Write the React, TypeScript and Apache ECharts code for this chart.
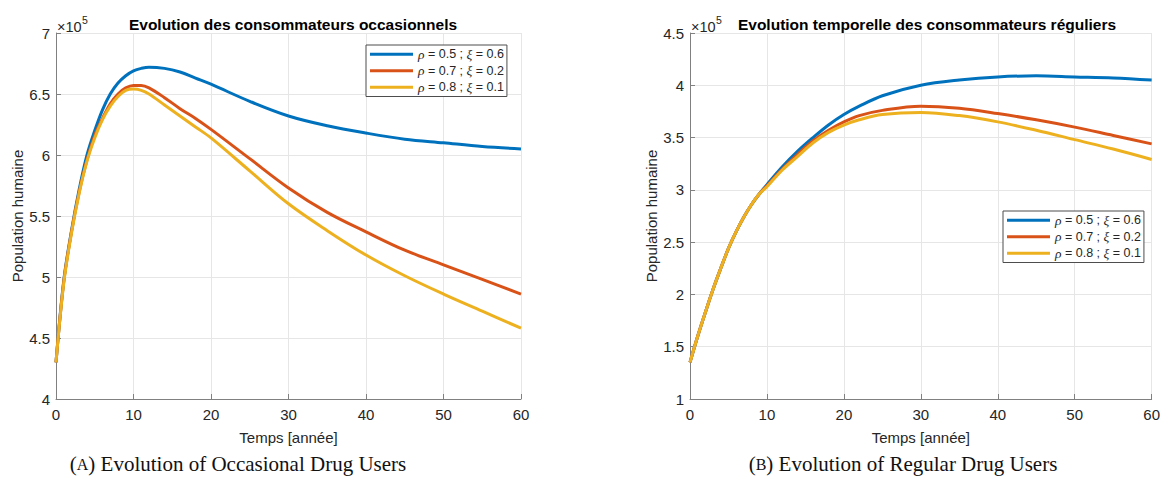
import React, { useEffect, useRef } from "react";
import * as echarts from "echarts";

// ---------- data ----------
const seriesNames = ["ρ = 0.5 ; ξ = 0.6", "ρ = 0.7 ; ξ = 0.2", "ρ = 0.8 ; ξ = 0.1"];
const colors = ["#0072BD", "#D95319", "#EDB120"];

const occT = [0, 1, 2, 3, 4, 5, 6, 7, 8, 9, 10, 11, 12, 14, 16, 18, 20, 25, 30, 35, 40, 45, 50, 55, 60];
const occBlue = [4.3, 4.97, 5.38, 5.72, 6.0, 6.2, 6.37, 6.5, 6.59, 6.65, 6.69, 6.71, 6.72, 6.71, 6.68, 6.63, 6.58, 6.44, 6.32, 6.24, 6.18, 6.13, 6.1, 6.07, 6.05];
const occRed = [4.3, 4.96, 5.37, 5.7, 5.96, 6.16, 6.3, 6.42, 6.5, 6.55, 6.57, 6.57, 6.55, 6.47, 6.38, 6.3, 6.21, 5.97, 5.73, 5.53, 5.37, 5.22, 5.1, 4.98, 4.86];
const occYellow = [4.3, 4.95, 5.36, 5.69, 5.95, 6.14, 6.29, 6.4, 6.48, 6.53, 6.54, 6.53, 6.5, 6.41, 6.32, 6.23, 6.14, 5.87, 5.6, 5.38, 5.18, 5.01, 4.86, 4.72, 4.58];

const regT = [0, 1, 2, 3, 4, 5, 6, 7, 8, 9, 10, 12, 14, 16, 18, 20, 22, 25, 30, 35, 40, 45, 50, 55, 60];
const regBlue = [1.35, 1.6, 1.83, 2.05, 2.25, 2.44, 2.6, 2.74, 2.86, 2.96, 3.05, 3.22, 3.37, 3.5, 3.62, 3.72, 3.8, 3.9, 4.0, 4.05, 4.08, 4.09, 4.08, 4.07, 4.05];
const regRed = [1.35, 1.6, 1.83, 2.05, 2.25, 2.44, 2.6, 2.74, 2.86, 2.96, 3.04, 3.2, 3.34, 3.47, 3.57, 3.65, 3.71, 3.76, 3.8, 3.78, 3.73, 3.67, 3.6, 3.52, 3.44];
const regYellow = [1.35, 1.6, 1.83, 2.05, 2.25, 2.44, 2.6, 2.74, 2.86, 2.96, 3.03, 3.19, 3.32, 3.45, 3.55, 3.62, 3.67, 3.72, 3.74, 3.71, 3.65, 3.57, 3.48, 3.39, 3.29];

const xTicks = { min: 0, max: 60, interval: 10 };
const occY = { min: 4, max: 7, interval: 0.5 };
const regY = { min: 1, max: 4.5, interval: 0.5 };

const titles = ["Evolution des consommateurs occasionnels", "Evolution temporelle des consommateurs réguliers"];
const xName = "Temps [année]";
const yName = "Population humaine";
const captions = [
  ["A", " Evolution of Occasional Drug Users"],
  ["B", " Evolution of Regular Drug Users"],
];

const SANS = "Liberation Sans, Arial, Helvetica, sans-serif";
const SERIF = "Liberation Serif, DejaVu Serif, serif";
const TXT = "#262626";

const zip = (t: number[], v: number[]) => t.map((x, i) => [x, v[i]]);

export default function App() {
  const ref = useRef<HTMLDivElement>(null);
  useEffect(() => {
    if (!ref.current) return;
    const chart = echarts.init(ref.current, undefined, { renderer: "svg" });

    const grids = [
      { left: 56, top: 33, width: 465, height: 366 },
      { left: 690, top: 33, width: 464, height: 366 },
    ];

    const mkX = (gi: number) => ({
      type: "value",
      gridIndex: gi,
      ...xTicks,
      name: xName,
      nameLocation: "middle",
      nameGap: 31,
      nameTextStyle: { color: TXT, fontSize: 15, fontFamily: SANS },
      axisLine: { show: true, lineStyle: { color: "#808080", width: 1 } },
      axisTick: { show: true, inside: true, length: 5, lineStyle: { color: "#808080" } },
      axisLabel: { color: TXT, fontSize: 15, fontFamily: SANS, margin: 8 },
      splitLine: { show: true, lineStyle: { color: "#e6e6e6", width: 1 } },
    });
    const mkY = (gi: number, r: any) => ({
      type: "value",
      gridIndex: gi,
      ...r,
      name: yName,
      nameLocation: "middle",
      nameGap: 31,
      nameTextStyle: { color: TXT, fontSize: 15, fontFamily: SANS },
      axisLine: { show: true, lineStyle: { color: "#808080", width: 1 } },
      axisTick: { show: true, inside: true, length: 5, lineStyle: { color: "#808080" } },
      axisLabel: { color: TXT, fontSize: 15, fontFamily: SANS, margin: 6 },
      splitLine: { show: true, lineStyle: { color: "#e6e6e6", width: 1 } },
    });

    const mkSeries = (gi: number, t: number[], arrs: number[][]) =>
      arrs.map((a, i) => ({
        type: "line",
        name: seriesNames[i],
        xAxisIndex: gi,
        yAxisIndex: gi,
        data: zip(t, a),
        smooth: 0.35,
        symbol: "none",
        lineStyle: { width: 3, color: colors[i] },
        itemStyle: { color: colors[i] },
        z: 2 + i,
      }));

    const legendBase = {
      orient: "vertical",
      data: seriesNames,
      icon: "rect",
      backgroundColor: "#ffffff",
      borderColor: "#4d4d4d",
      borderWidth: 1,
      borderRadius: 0,
      padding: [2, 3, 2, 4],
      itemGap: 2,
      itemWidth: 43,
      itemHeight: 3,
      selectedMode: false,
      formatter: (n: string) => n.replace("ρ", "{i|ρ}").replace("ξ", "{i|ξ}"),
      textStyle: {
        color: TXT,
        fontSize: 12.5,
        lineHeight: 14.5,
        fontFamily: SANS,
        rich: { i: { fontStyle: "italic", fontFamily: SERIF, fontSize: 13.5, lineHeight: 14.5, color: TXT } },
      },
    };

    const exp = (x: number) => [
      { type: "text", left: x, top: 19, style: { text: "×10", fill: TXT, font: `14.5px ${SANS}` } },
      { type: "text", left: x + 25, top: 14, style: { text: "5", fill: TXT, font: `10.5px ${SANS}` } },
    ];

    const cap = (cx: number, c: string[]) => ({
      type: "text",
      x: cx,
      y: 464,
      style: {
        text: `(${"{sc|" + c[0] + "}"})${c[1]}`,
        align: "center",
        verticalAlign: "middle",
        fill: "#111",
        font: `21px ${SERIF}`,
        rich: { sc: { fontSize: 16, fontFamily: SERIF, fill: "#111" } },
      },
    });

    chart.setOption({
      animation: false,
      backgroundColor: "#ffffff",
      title: [
        { text: titles[0], left: 288, top: 11, textAlign: "center", textStyle: { fontSize: 15.5, fontWeight: "bold", color: "#000", fontFamily: SANS } },
        { text: titles[1], left: 922, top: 11, textAlign: "center", textStyle: { fontSize: 15.5, fontWeight: "bold", color: "#000", fontFamily: SANS } },
      ],
      grid: grids,
      xAxis: [mkX(0), mkX(1)],
      yAxis: [mkY(0, occY), mkY(1, regY)],
      legend: [
        { ...legendBase, left: 366, top: 45 },
        { ...legendBase, left: 1003, top: 211 },
      ],
      series: [
        ...mkSeries(0, occT, [occBlue, occRed, occYellow]),
        ...mkSeries(1, regT, [regBlue, regRed, regYellow]),
      ],
      graphic: [...exp(57), ...exp(691), cap(238, captions[0]), cap(903, captions[1])],
    });

    return () => chart.dispose();
  }, []);

  return <div ref={ref} style={{ position: "absolute", left: 0, top: 0, width: 1163, height: 491 }} />;
}
